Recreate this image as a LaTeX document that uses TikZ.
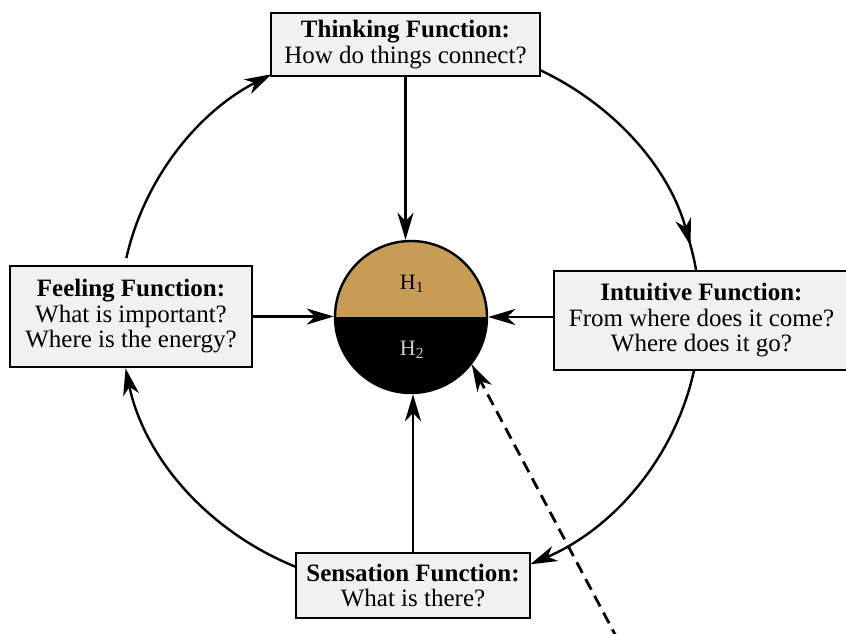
\documentclass[tikz,border=0pt]{standalone}
\usepackage{fontspec}
\setmainfont{Liberation Serif}
\usetikzlibrary{arrows.meta}
\definecolor{tanfill}{RGB}{198,156,86}
\definecolor{boxfill}{RGB}{241,241,239}
\definecolor{hgray}{RGB}{205,205,205}
\begin{document}
\begin{tikzpicture}[x=1pt,y=-1pt,
  >={Stealth[length=27pt,width=16pt,inset=8pt]},
  fbox/.style={draw, line width=2.4pt, fill=boxfill, align=center, inner sep=0pt,
    font=\fontsize{25}{25.5}\selectfont},
  flow/.style={line width=2.4pt},
  ring/.style={line width=2.4pt}]
\useasboundingbox (0,0) rectangle (846,633);
\fill[white] (0,0) rectangle (846,633);
\coordinate (E) at (410,315);
% outer cycle arcs
\draw[ring,->] ([shift={(192:290 and 274)}]E) arc[start angle=192, end angle=241.5, x radius=290, y radius=274];
\draw[ring,->] ([shift={(292:290 and 274)}]E) arc[start angle=292, end angle=345.3, x radius=290, y radius=274];
\draw[ring] ([shift={(344:290 and 274)}]E) arc[start angle=344, end angle=352, x radius=290, y radius=274];
\draw[ring,->] ([shift={(9:290 and 274)}]E) arc[start angle=9, end angle=65.5, x radius=290, y radius=274];
\draw[ring,->] ([shift={(110:290 and 274)}]E) arc[start angle=110, end angle=168.8, x radius=290, y radius=274];
% boxes
\node[fbox, minimum width=269pt, minimum height=63pt] (think) at (405.5,44.5)
  {\textbf{Thinking Function:}\\How do things connect?};
\node[fbox, minimum width=242pt, minimum height=101pt] (feel) at (131,316.5)
  {\textbf{Feeling Function:}\\What is important?\\Where is the energy?};
\node[fbox, minimum width=295pt, minimum height=99pt] (intu) at (701.5,320.5)
  {\textbf{Intuitive Function:}\\From where does it come?\\Where does it go?};
\node[fbox, minimum width=234pt, minimum height=65pt] (sens) at (413,585.5)
  {\textbf{Sensation Function:}\\What is there?};
% central circle
\coordinate (O) at (411,317);
\fill[tanfill] ([shift={(180:76)}]O) arc[start angle=180, end angle=360, radius=76] -- cycle;
\fill[black] ([shift={(0:76)}]O) arc[start angle=0, end angle=180, radius=76] -- cycle;
\node[circle, draw, line width=2.4pt, minimum size=152pt, inner sep=0pt] (circ) at (O) {};
\node[font=\fontsize{22}{22}\selectfont, text=black] (h1) at (412,284) {H\textsubscript{1}};
\node[font=\fontsize{22}{22}\selectfont, text=hgray] (h2) at (412,350) {H\textsubscript{2}};
% straight arrows
\draw[flow,->] (think.south) -- (think.south |- circ.north);
\draw[flow,->] (feel.east) -- (feel.east -| circ.west);
\draw[flow,->] (intu.west |- circ.east) -- (circ.east);
\draw[flow,->] (sens.north) -- (sens.north |- circ.south);
% dashed arrow
\coordinate (dstart) at (618,640);
\draw[->, dash pattern=on 12pt off 7pt, line width=2.8pt] (dstart) -- (circ.-38);
\end{tikzpicture}
\end{document}
